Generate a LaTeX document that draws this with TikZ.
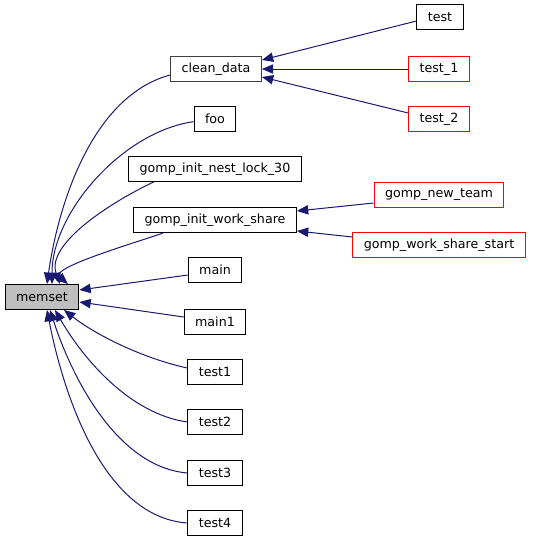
\documentclass[tikz,border=0pt]{standalone}
\usepackage{fontspec}
\setmainfont{DejaVu Sans}
\usetikzlibrary{arrows.meta,positioning}
\definecolor{edgeblue}{HTML}{191970}
\definecolor{fnred}{HTML}{FF0000}
\tikzset{
  fn/.style   ={draw=black,line width=.75pt,inner xsep=8.2pt,inner ysep=0pt,
                minimum height=18.75pt,font=\fontsize{9.5}{11}\selectfont},
  fndoc/.style={fn,draw=black!75},
  ext/.style  ={fn,draw=fnred},
  cur/.style  ={fn,fill=black!25},
  call/.style ={{Triangle[length=8.5pt,width=7pt]}-,line width=.75pt,edgeblue},
}
\begin{document}
\begin{tikzpicture}[x=0.75pt,y=0.75pt]
  \useasboundingbox (0,0) rectangle (533,-544);
  % callee
  \node[cur] (memset) at (42,-297) {memset};
  % direct callers
  \node[fndoc] (cleandata) at (216,-69)  {clean\_data};
  \node[fn]    (foo)       at (215,-119) {foo};
  \node[fn]    (nestlock)  at (215,-169) {gomp\_init\_nest\_lock\_30};
  \node[fn]    (workshare) at (215,-220) {gomp\_init\_work\_share};
  \node[fn]    (main)      at (215,-270) {main};
  \node[fn]    (mainone)   at (215,-322) {main1};
  \node[fn]    (testone)   at (215,-372) {test1};
  \node[fn]    (testtwo)   at (215,-422) {test2};
  \node[fn]    (testthree) at (215,-473) {test3};
  \node[fn]    (testfour)  at (215,-523) {test4};
  % second level callers
  \node[fn]  (test)    at (440,-17)  {test};
  \node[ext] (testa)   at (439,-69)  {test\_1};
  \node[ext] (testb)   at (439,-119) {test\_2};
  \node[ext] (newteam) at (439,-195) {gomp\_new\_team};
  \node[ext] (wsstart) at (439,-245) {gomp\_work\_share\_start};

  % into memset, from above
  \draw[call] ([xshift=3.75pt]memset.north) to[out=82,in=195,looseness=.85] ([yshift=-4.5pt]cleandata.west);
  \draw[call] ([xshift=7.5pt]memset.north)  to[out=90,in=188,looseness=.85] ([yshift=-2pt]foo.west);
  \draw[call] ([xshift=13.5pt]memset.north) to[out=110,in=205,looseness=.8] ([xshift=-46pt]nestlock.south);
  \draw[call] ([xshift=19.5pt]memset.north) to[out=140,in=200,looseness=.6] ([xshift=-39pt]workshare.south);
  \draw[call] ([yshift=5.25pt]memset.east)  -- ([yshift=-3.75pt]main.west);
  \draw[call] ([yshift=-3.75pt]memset.east) -- ([yshift=3.75pt]mainone.west);
  % into memset, from below
  \draw[call] ([xshift=16.5pt]memset.south) to[out=-38,in=168,looseness=.8] ([yshift=3pt]testone.west);
  \draw[call] ([xshift=9.75pt]memset.south) to[out=-60,in=172,looseness=.85] (testtwo.west);
  \draw[call] ([xshift=6pt]memset.south)    to[out=-72,in=175,looseness=.85] (testthree.west);
  \draw[call] ([xshift=3.75pt]memset.south) to[out=-79,in=176,looseness=.85] (testfour.west);

  % second level
  \draw[call] ([yshift=6.75pt]cleandata.east) -- ([yshift=-3pt]test.west);
  \draw[call] (cleandata.east) -- (testa.west);
  \draw[call] ([yshift=-6pt]cleandata.east) -- ([yshift=4.5pt]testb.west);
  \draw[call] ([yshift=6.75pt]workshare.east) -- ([yshift=-6pt]newteam.west);
  \draw[call] ([yshift=-8.25pt]workshare.east) -- ([yshift=6pt]wsstart.west);
\end{tikzpicture}
\end{document}
